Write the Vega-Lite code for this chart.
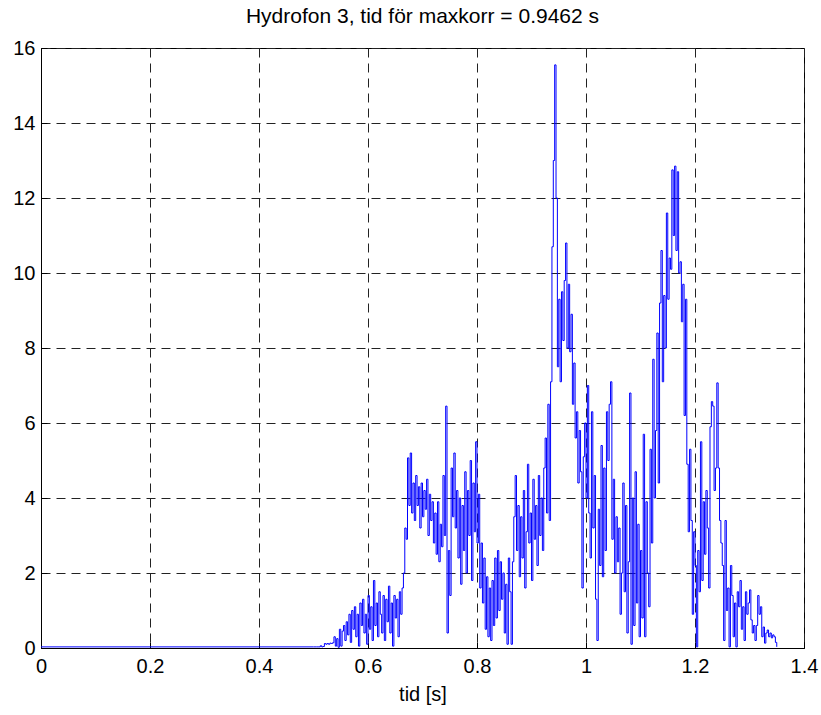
{
  "$schema": "https://vega.github.io/schema/vega-lite/v6.json",
  "width": 763,
  "height": 600,
  "autosize": "none",
  "padding": {"left": 41, "top": 48, "right": 17, "bottom": 67},
  "background": "white",
  "config": {
    "font": "Liberation Sans",
    "view": {"stroke": "black", "strokeWidth": 1},
    "title": {"fontSize": 21, "fontWeight": "normal", "color": "black", "offset": 11},
    "axis": {
      "labelFontSize": 20, "labelColor": "black", "titleFontSize": 20, "titleFontWeight": "normal", "titleColor": "black",
      "domainColor": "black", "tickColor": "black", "grid": true, "gridColor": "#222", "gridDash": [9, 6], "gridOpacity": 1, "gridWidth": 1
    }
  },
  "title": {"text": "Hydrofon 3, tid för maxkorr = 0.9462 s"},
  "data": {"values": [
{"t":0,"v":0.03},{"t":0.5,"v":0.03},{"t":0.505,"v":0.03},{"t":0.51,"v":0.03},{"t":0.5125,"v":0.06},{"t":0.515,"v":0.03},{"t":0.5175,"v":0.04},{"t":0.52,"v":0.12},{"t":0.5225,"v":0.1},{"t":0.525,"v":0.12},{"t":0.5275,"v":0.1},{"t":0.53,"v":0.13},{"t":0.5325,"v":0.12},{"t":0.535,"v":0.14},{"t":0.5375,"v":0.3},{"t":0.54,"v":0.05},{"t":0.5425,"v":0.25},{"t":0.545,"v":0.02},{"t":0.5475,"v":0.5},
{"t":0.55,"v":0.05},{"t":0.5525,"v":0.45},{"t":0.555,"v":0.6},{"t":0.5575,"v":0.2},{"t":0.56,"v":0.7},{"t":0.5625,"v":0.35},{"t":0.565,"v":0.9},{"t":0.5675,"v":0.15},{"t":0.57,"v":1.0},{"t":0.5725,"v":0.5},{"t":0.575,"v":1.1},{"t":0.5775,"v":0.3},{"t":0.58,"v":0.9},{"t":0.5825,"v":0.05},{"t":0.585,"v":1.2},{"t":0.5875,"v":0.6},{"t":0.59,"v":1.3},{"t":0.5925,"v":0.4},{"t":0.595,"v":0.9},{"t":0.5975,"v":0.1},
{"t":0.6,"v":1.4},{"t":0.6025,"v":0.5},{"t":0.605,"v":1.1},{"t":0.6075,"v":0.2},{"t":0.61,"v":1.8},{"t":0.6125,"v":0.6},{"t":0.615,"v":1.2},{"t":0.6175,"v":0.3},{"t":0.62,"v":1.5},{"t":0.6225,"v":0.9},{"t":0.625,"v":0.4},{"t":0.6275,"v":1.4},{"t":0.63,"v":0.2},{"t":0.6325,"v":1.3},{"t":0.635,"v":0.7},{"t":0.6375,"v":1.65},{"t":0.64,"v":0.4},{"t":0.6425,"v":1.2},{"t":0.645,"v":0.05},{"t":0.6475,"v":1.4},
{"t":0.65,"v":0.8},{"t":0.6525,"v":1.3},{"t":0.655,"v":0.3},{"t":0.6575,"v":1.5},{"t":0.66,"v":0.9},{"t":0.6625,"v":1.6},{"t":0.665,"v":2.0},{"t":0.6675,"v":3.2},{"t":0.67,"v":2.9},{"t":0.6725,"v":5.07},{"t":0.675,"v":3.8},{"t":0.6775,"v":5.2},{"t":0.68,"v":3.6},{"t":0.6825,"v":4.4},{"t":0.685,"v":3.4},{"t":0.6875,"v":4.6},{"t":0.69,"v":3.8},{"t":0.6925,"v":4.3},{"t":0.695,"v":3.2},{"t":0.6975,"v":4.4},
{"t":0.7,"v":3.5},{"t":0.7025,"v":4.2},{"t":0.705,"v":3.7},{"t":0.7075,"v":4.5},{"t":0.71,"v":3.0},{"t":0.7125,"v":4.1},{"t":0.715,"v":3.4},{"t":0.7175,"v":3.9},{"t":0.72,"v":2.8},{"t":0.7225,"v":3.6},{"t":0.725,"v":2.5},{"t":0.7275,"v":3.9},{"t":0.73,"v":2.3},{"t":0.7325,"v":3.3},{"t":0.735,"v":2.7},{"t":0.7375,"v":4.6},{"t":0.74,"v":3.0},{"t":0.7425,"v":6.45},{"t":0.745,"v":0.4},{"t":0.7475,"v":2.6},
{"t":0.75,"v":1.4},{"t":0.7525,"v":4.8},{"t":0.755,"v":3.5},{"t":0.7575,"v":5.2},{"t":0.76,"v":3.2},{"t":0.7625,"v":4.2},{"t":0.765,"v":2.4},{"t":0.7675,"v":4.0},{"t":0.77,"v":1.7},{"t":0.7725,"v":3.8},{"t":0.775,"v":2.6},{"t":0.7775,"v":4.7},{"t":0.78,"v":2.0},{"t":0.7825,"v":4.2},{"t":0.785,"v":3.0},{"t":0.7875,"v":5.0},{"t":0.79,"v":1.8},{"t":0.7925,"v":4.4},{"t":0.795,"v":3.1},{"t":0.7975,"v":5.5},
{"t":0.8,"v":2.8},{"t":0.8025,"v":4.1},{"t":0.805,"v":1.6},{"t":0.8075,"v":2.8},{"t":0.81,"v":1.2},{"t":0.8125,"v":2.4},{"t":0.815,"v":0.5},{"t":0.8175,"v":1.9},{"t":0.82,"v":0.3},{"t":0.8225,"v":1.6},{"t":0.825,"v":0.2},{"t":0.8275,"v":1.8},{"t":0.83,"v":0.6},{"t":0.8325,"v":2.4},{"t":0.835,"v":0.8},{"t":0.8375,"v":2.6},{"t":0.84,"v":1.0},{"t":0.8425,"v":2.3},{"t":0.845,"v":1.3},{"t":0.8475,"v":2.0},
{"t":0.85,"v":0.4},{"t":0.8525,"v":1.7},{"t":0.855,"v":0.1},{"t":0.8575,"v":2.4},{"t":0.86,"v":1.5},{"t":0.8625,"v":0.1},{"t":0.865,"v":2.3},{"t":0.8675,"v":3.5},{"t":0.87,"v":4.6},{"t":0.8725,"v":2.6},{"t":0.875,"v":3.8},{"t":0.8775,"v":1.9},{"t":0.88,"v":3.5},{"t":0.8825,"v":2.4},{"t":0.885,"v":4.2},{"t":0.8875,"v":1.6},{"t":0.89,"v":3.1},{"t":0.8925,"v":4.9},{"t":0.895,"v":2.8},{"t":0.8975,"v":3.6},
{"t":0.9,"v":1.8},{"t":0.9025,"v":4.5},{"t":0.905,"v":2.9},{"t":0.9075,"v":3.8},{"t":0.91,"v":2.2},{"t":0.9125,"v":4.6},{"t":0.915,"v":3.0},{"t":0.9175,"v":4.0},{"t":0.92,"v":2.6},{"t":0.9225,"v":4.8},{"t":0.925,"v":5.6},{"t":0.9275,"v":3.6},{"t":0.93,"v":6.5},{"t":0.9325,"v":3.4},{"t":0.935,"v":7.1},{"t":0.9375,"v":10.7},{"t":0.94,"v":13.0},{"t":0.9425,"v":15.55},{"t":0.945,"v":12.0},{"t":0.9475,"v":7.5},
{"t":0.95,"v":9.3},{"t":0.9525,"v":7.1},{"t":0.955,"v":9.5},{"t":0.9575,"v":8.2},{"t":0.96,"v":9.8},{"t":0.9625,"v":10.8},{"t":0.965,"v":8.0},{"t":0.9675,"v":9.7},{"t":0.97,"v":7.9},{"t":0.9725,"v":8.9},{"t":0.975,"v":6.5},{"t":0.9775,"v":7.6},{"t":0.98,"v":5.6},{"t":0.9825,"v":6.3},{"t":0.985,"v":4.4},{"t":0.9875,"v":5.8},{"t":0.99,"v":4.7},{"t":0.9925,"v":1.6},{"t":0.995,"v":5.1},{"t":0.9975,"v":6.0},
{"t":1.0,"v":4.0},{"t":1.0025,"v":7.0},{"t":1.005,"v":3.6},{"t":1.0075,"v":2.4},{"t":1.01,"v":6.3},{"t":1.0125,"v":3.2},{"t":1.015,"v":4.6},{"t":1.0175,"v":1.3},{"t":1.02,"v":0.2},{"t":1.0225,"v":3.7},{"t":1.025,"v":2.2},{"t":1.0275,"v":5.4},{"t":1.03,"v":1.9},{"t":1.0325,"v":4.8},{"t":1.035,"v":2.6},{"t":1.0375,"v":6.3},{"t":1.04,"v":5.0},{"t":1.0425,"v":6.5},{"t":1.045,"v":7.1},{"t":1.0475,"v":2.9},
{"t":1.05,"v":4.5},{"t":1.0525,"v":2.0},{"t":1.055,"v":3.5},{"t":1.0575,"v":2.3},{"t":1.06,"v":3.2},{"t":1.0625,"v":0.9},{"t":1.065,"v":2.0},{"t":1.0675,"v":4.4},{"t":1.07,"v":1.5},{"t":1.0725,"v":3.8},{"t":1.075,"v":0.4},{"t":1.0775,"v":2.3},{"t":1.08,"v":6.8},{"t":1.0825,"v":0.1},{"t":1.085,"v":4.0},{"t":1.0875,"v":0.6},{"t":1.09,"v":4.7},{"t":1.0925,"v":1.2},{"t":1.095,"v":3.3},{"t":1.0975,"v":0.3},
{"t":1.1,"v":2.6},{"t":1.1025,"v":0.8},{"t":1.105,"v":5.7},{"t":1.1075,"v":0.3},{"t":1.11,"v":3.9},{"t":1.1125,"v":2.0},{"t":1.115,"v":1.1},{"t":1.1175,"v":5.3},{"t":1.12,"v":2.8},{"t":1.1225,"v":7.7},{"t":1.125,"v":4.0},{"t":1.1275,"v":5.8},{"t":1.13,"v":8.4},{"t":1.1325,"v":4.4},{"t":1.135,"v":9.2},{"t":1.1375,"v":10.6},{"t":1.14,"v":7.1},{"t":1.1425,"v":9.4},{"t":1.145,"v":8.0},{"t":1.1475,"v":11.6},
{"t":1.15,"v":9.3},{"t":1.1525,"v":10.4},{"t":1.155,"v":10.1},{"t":1.1575,"v":12.75},{"t":1.16,"v":11.0},{"t":1.1625,"v":12.85},{"t":1.165,"v":10.6},{"t":1.1675,"v":12.7},{"t":1.17,"v":10.0},{"t":1.1725,"v":10.3},{"t":1.175,"v":8.7},{"t":1.1775,"v":9.7},{"t":1.18,"v":6.2},{"t":1.1825,"v":9.3},{"t":1.185,"v":4.9},{"t":1.1875,"v":3.1},{"t":1.19,"v":5.3},{"t":1.1925,"v":3.4},{"t":1.195,"v":0.9},{"t":1.1975,"v":3.1},
{"t":1.2,"v":2.2},{"t":1.2025,"v":0.03},{"t":1.205,"v":2.6},{"t":1.2075,"v":1.5},{"t":1.21,"v":5.5},{"t":1.2125,"v":1.8},{"t":1.215,"v":3.9},{"t":1.2175,"v":2.5},{"t":1.22,"v":4.2},{"t":1.2225,"v":3.2},{"t":1.225,"v":1.6},{"t":1.2275,"v":5.9},{"t":1.23,"v":6.57},{"t":1.2325,"v":6.45},{"t":1.235,"v":4.2},{"t":1.2375,"v":4.8},{"t":1.24,"v":7.07},{"t":1.2425,"v":4.8},{"t":1.245,"v":3.4},{"t":1.2475,"v":2.8},
{"t":1.25,"v":2.2},{"t":1.2525,"v":0.2},{"t":1.255,"v":3.4},{"t":1.2575,"v":1.0},{"t":1.26,"v":1.6},{"t":1.2625,"v":0.03},{"t":1.265,"v":2.2},{"t":1.2675,"v":1.4},{"t":1.27,"v":0.3},{"t":1.2725,"v":1.2},{"t":1.275,"v":0.03},{"t":1.2775,"v":1.5},{"t":1.28,"v":1.1},{"t":1.2825,"v":1.8},{"t":1.285,"v":0.5},{"t":1.2875,"v":1.1},{"t":1.29,"v":0.2},{"t":1.2925,"v":1.5},{"t":1.295,"v":0.9},{"t":1.2975,"v":1.2},
{"t":1.3,"v":1.55},{"t":1.3025,"v":0.75},{"t":1.305,"v":0.4},{"t":1.3075,"v":0.6},{"t":1.31,"v":0.2},{"t":1.3125,"v":0.6},{"t":1.315,"v":1.4},{"t":1.3175,"v":0.9},{"t":1.32,"v":1.1},{"t":1.3225,"v":0.3},{"t":1.325,"v":0.56},{"t":1.3275,"v":0.13},{"t":1.33,"v":0.4},{"t":1.3325,"v":0.48},{"t":1.335,"v":0.3},{"t":1.3375,"v":0.4},{"t":1.34,"v":0.27},{"t":1.3425,"v":0.35},{"t":1.345,"v":0.3},{"t":1.3475,"v":0.15},{"t":1.35,"v":0.03}
  ]},
  "mark": {"type": "line", "color": "#0000ff", "strokeWidth": 1, "clip": true, "interpolate": "step-after"},
  "encoding": {
    "x": {"field": "t", "type": "quantitative", "scale": {"domain": [0, 1.4], "nice": false, "zero": false},
      "axis": {"values": [0, 0.2, 0.4, 0.6, 0.8, 1, 1.2, 1.4], "format": "~g", "title": "tid [s]", "ticks": true, "tickSize": -6, "labelPadding": 14, "titlePadding": 8, "labelFlush": false}},
    "y": {"field": "v", "type": "quantitative", "scale": {"domain": [0, 16], "nice": false},
      "axis": {"values": [0, 2, 4, 6, 8, 10, 12, 14, 16], "format": "d", "title": null, "ticks": true, "tickSize": -6, "labelPadding": 12, "labelFlush": false}}
  }
}
